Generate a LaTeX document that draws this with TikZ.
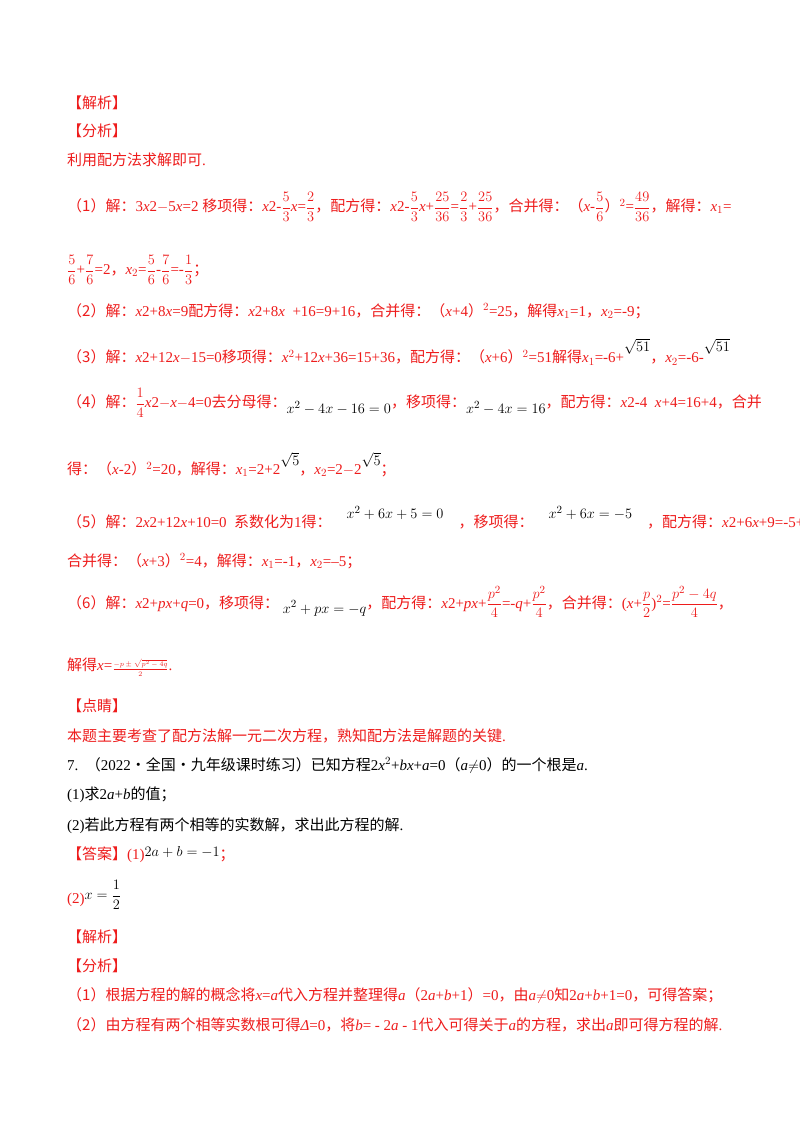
\documentclass[tikz,border=0pt]{standalone}
\usepackage{amsmath}
\usepackage{fontspec}
\setmainfont{Liberation Serif}
\newfontfamily\cjkf{Noto Sans CJK SC}
\newcommand\cj[1]{{\cjkf #1}}
\newcommand\ix[1]{\textit{#1}}
\definecolor{rd}{RGB}{238,28,28}
\tikzset{ln/.style={anchor=west,inner sep=0pt,font=\fontsize{15}{18}\selectfont},
 r/.style={ln,text=rd}, k/.style={ln,text=black}}
\begin{document}
\begin{tikzpicture}[x=1pt,y=-1pt]
\useasboundingbox[fill=white] (0,0) rectangle (800,1132);
\node[r] (a1) at (67,103) {\cj{【解析】}};
\node[r] (a2) at (67,131) {\cj{【分析】}};
\node[r] (a3) at (67,160) {\cj{利用配方法求解即可}.};
\node[r] (l1) at (67,207) {\cj{（1）解：}3\ix{x}2$-$5\ix{x}=2 \cj{移项得：}\ix{x}2-$\dfrac{5}{3}$\ix{x}=$\dfrac{2}{3}$\cj{，配方得：}\ix{x}2-$\dfrac{5}{3}$\ix{x}+$\dfrac{25}{36}$=$\dfrac{2}{3}$+$\dfrac{25}{36}$\cj{，合并得：（}\ix{x}-$\dfrac{5}{6}$\cj{）}$^2$=$\dfrac{49}{36}$\cj{，解得：}\ix{x}$_1$=};
\node[r] (l2) at (67,270) {$\dfrac{5}{6}$+$\dfrac{7}{6}$=2\cj{，}\ix{x}$_2$=$\dfrac{5}{6}$-$\dfrac{7}{6}$=-$\dfrac{1}{3}$\cj{；}};
\node[r] (l3) at (67,311) {\cj{（2）解：}\ix{x}2+8\ix{x}=9\cj{配方得：}\ix{x}2+8\ix{x} \ +16=9+16\cj{，合并得：（}\ix{x}+4\cj{）}$^2$=25\cj{，解得}\ix{x}$_1$=1\cj{，}\ix{x}$_2$=-9\cj{；}};
\node[r] (l4) at (67,352) {\cj{（3）解：}\ix{x}2+12\ix{x}$-$15=0\cj{移项得：}\ix{x}$^2$+12\ix{x}+36=15+36\cj{，配方得：（}\ix{x}+6\cj{）}$^2$=51\cj{解得}\ix{x}$_1$=-6+\raisebox{11pt}{\textcolor{black}{$\sqrt{51}$}}\cj{，}\ix{x}$_2$=-6-\raisebox{11pt}{\textcolor{black}{$\sqrt{51}$}}};
\node[r] (l5) at (67,403) {\cj{（4）解：}$\dfrac{1}{4}$\ix{x}2$-$\ix{x}$-$4=0\cj{去分母得：}\raisebox{-6pt}{\textcolor{black}{$x^2-4x-16=0$}}\cj{，移项得：}\raisebox{-6pt}{\textcolor{black}{$x^2-4x=16$}}\cj{，配方得：}\ix{x}2-4 \ \ix{x}+4=16+4\cj{，合并}};
\node[r] (l6) at (67,465) {\cj{得：（}\ix{x}-2\cj{）}$^2$=20\cj{，解得：}\ix{x}$_1$=2+2\raisebox{9pt}{\textcolor{black}{$\sqrt{5}$}}\cj{，}\ix{x}$_2$=2$-$2\raisebox{9pt}{\textcolor{black}{$\sqrt{5}$}}\cj{；}};
\node[r] (l7) at (67,518) {\cj{（5）解：}2\ix{x}2+12\ix{x}+10=0 \ \cj{系数化为}1\cj{得：}\quad\raisebox{9pt}{\textcolor{black}{$x^2+6x+5=0$}}\quad\cj{，移项得：}\quad\raisebox{9pt}{\textcolor{black}{$x^2+6x=-5$}}\quad\cj{，配方得：}\ix{x}2+6\ix{x}+9=-5+9\cj{，}};
\node[r] (l8) at (67,561) {\cj{合并得：（}\ix{x}+3\cj{）}$^2$=4\cj{，解得：}\ix{x}$_1$=-1\cj{，}\ix{x}$_2$=--5\cj{；}};
\node[r] (l9) at (67,602) {\cj{（6）解：}\ix{x}2+\ix{px}+\ix{q}=0\cj{，移项得：}\ \raisebox{-5pt}{\textcolor{black}{$x^2+px=-q$}}\cj{，配方得：}\ix{x}2+\ix{px}+$\dfrac{p^2}{4}$=-\ix{q}+$\dfrac{p^2}{4}$\cj{，合并得：}(\ix{x}+$\dfrac{p}{2}$)$^2$=$\dfrac{p^2-4q}{4}$\cj{，}};
\node[r] (l10) at (67,667) {\cj{解得}\ix{x}=\raisebox{-1pt}{\scriptsize$\dfrac{-p\pm\sqrt{p^2-4q}}{2}$}.};
\node[r] (b1) at (67,706) {\cj{【点睛】}};
\node[r] (b2) at (67,736) {\cj{本题主要考查了配方法解一元二次方程，熟知配方法是解题的关键}.};
\node[k] (q7) at (67,765) {7.\ \ \cj{（}2022\cj{·全国·九年级课时练习）已知方程}2\ix{x}$^2$+\ix{bx}+\ix{a}=0\cj{（}\ix{a}$\neq$0\cj{）的一个根是}\ix{a}.};
\node[k] (q1) at (67,795) {(1)\cj{求}2\ix{a}+\ix{b}\cj{的值；}};
\node[k] (q2) at (67,826) {(2)\cj{若此方程有两个相等的实数解，求出此方程的解}.};
\node[r] (ans) at (67,855) {\cj{【答案】}(1)\raisebox{3pt}{\textcolor{black}{$2a+b=-1$}}\cj{；}};
\node[r] (ans2) at (67,895) {(2)\raisebox{4pt}{\textcolor{black}{$x=\dfrac{1}{2}$}}};
\node[r] (c1) at (67,937) {\cj{【解析】}};
\node[r] (c2) at (67,966) {\cj{【分析】}};
\node[r] (c3) at (67,995) {\cj{（1）根据方程的解的概念将}\ix{x}=\ix{a}\cj{代入方程并整理得}\ix{a}\cj{（}2\ix{a}+\ix{b}+1\cj{）}=0\cj{，由}\ix{a}$\neq$0\cj{知}2\ix{a}+\ix{b}+1=0\cj{，可得答案；}};
\node[r] (c4) at (67,1025) {\cj{（2）由方程有两个相等实数根可得}\ix{Δ}=0\cj{，将}\ix{b}= - 2\ix{a} - 1\cj{代入可得关于}\ix{a}\cj{的方程，求出}\ix{a}\cj{即可得方程的解}.};
\end{tikzpicture}
\end{document}
